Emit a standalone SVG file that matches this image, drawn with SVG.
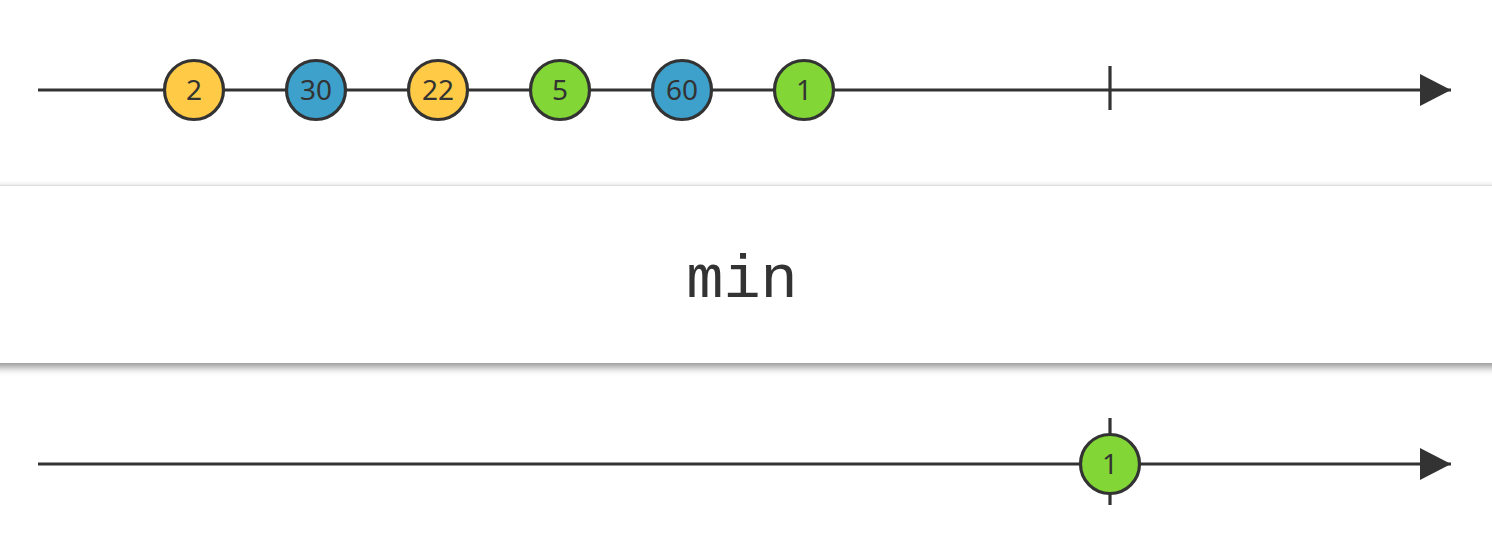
<svg xmlns="http://www.w3.org/2000/svg" width="1492" height="558" viewBox="0 0 1492 558">
  <defs>
    <marker id="arrow" markerWidth="32" markerHeight="32" viewBox="0 0 32 32" refX="31" refY="16" markerUnits="userSpaceOnUse" orient="auto">
      <path d="M0,0 L31,16 L0,32 Z" fill="#333333"/>
    </marker>
    <filter id="shadow" x="-5%" y="-20%" width="110%" height="150%">
      <feGaussianBlur in="SourceAlpha" stdDeviation="4"/>
      <feOffset dy="4" result="b"/>
      <feComponentTransfer><feFuncA type="linear" slope="0.45"/></feComponentTransfer>
      <feMerge><feMergeNode/><feMergeNode in="SourceGraphic"/></feMerge>
    </filter>
  </defs>
  <style>
    .line { stroke: #333333; stroke-width: 3.2; fill: none; }
    .tick { stroke: #333333; stroke-width: 3.2; }
    .marble { stroke: #333333; stroke-width: 3.2; }
    .yellow { fill: #FFCB46; }
    .blue { fill: #3EA1CB; }
    .green { fill: #82D736; }
    .label { font-family: "Noto Sans", "Open Sans", sans-serif; font-size: 28px; fill: #333333; text-anchor: middle; }
    .op { font-family: "Liberation Mono", "DejaVu Sans Mono", monospace; font-size: 62px; fill: #333333; text-anchor: middle; }
  </style>
  <rect width="1492" height="558" fill="#ffffff"/>
  <g id="connectors">
    <line class="line" x1="38" y1="90" x2="1451" y2="90" marker-end="url(#arrow)"/>
    <line class="tick" x1="1110" y1="66" x2="1110" y2="110"/>
    <line class="line" x1="38" y1="464" x2="1451" y2="464" marker-end="url(#arrow)"/>
    <line class="tick" x1="1110" y1="418" x2="1110" y2="505"/>
  </g>
  <g id="operator">
    <rect x="-10" y="185" width="1512" height="178" fill="#ffffff" filter="url(#shadow)"/>
    <line x1="0" y1="185.5" x2="1492" y2="185.5" stroke="#dddddd" stroke-width="1"/>
    <text class="op" x="742" y="297">min</text>
  </g>
  <g id="in-2"><circle class="marble yellow" cx="194" cy="90" r="29.5"/><text class="label" x="194" y="100">2</text></g>
  <g id="in-30"><circle class="marble blue" cx="316" cy="90" r="29.5"/><text class="label" x="316" y="100">30</text></g>
  <g id="in-22"><circle class="marble yellow" cx="438" cy="90" r="29.5"/><text class="label" x="438" y="100">22</text></g>
  <g id="in-5"><circle class="marble green" cx="560" cy="90" r="29.5"/><text class="label" x="560" y="100">5</text></g>
  <g id="in-60"><circle class="marble blue" cx="682" cy="90" r="29.5"/><text class="label" x="682" y="100">60</text></g>
  <g id="in-1"><circle class="marble green" cx="804" cy="90" r="29.5"/><text class="label" x="804" y="100">1</text></g>
  <g id="out-1"><circle class="marble green" cx="1110" cy="464" r="29.5"/><text class="label" x="1110" y="474">1</text></g>
</svg>
